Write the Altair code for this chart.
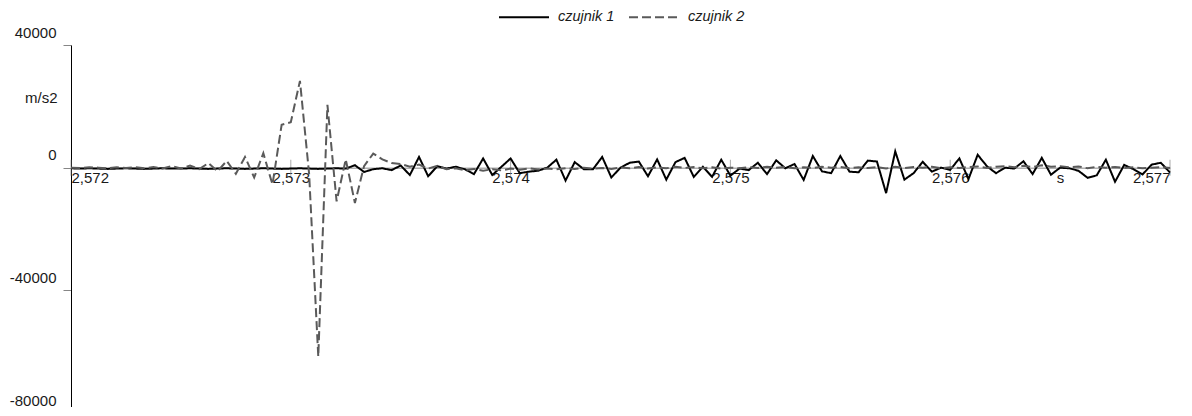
import altair as alt
import pandas as pd

# ---- data ----
T0 = 2.572            # first sample time [s]
SAMPLE_RATE = 24000   # samples per second
SERIES_NAMES = ["czujnik 1", "czujnik 2"]

czujnik_1 = [
    -200, -300, -200, -300, -400, -300, -200, -300, -400, -300,
    -200, -300, -300, -200, -300, -400, -300, -200, -300, -400,
    -300, -200, -300, -400, -300, -200, -300, -400, -300, -200,
    -300, 800, -1400, -500, -200, -800, 700, -2400, 3500, -2800,
    500, -300, 300, -500, -2100, 3000, -2400, 300, 3000, -1800,
    -1300, -1000, 0, 2600, -4200, 1800, -500, -500, 3500, -3200,
    0, 1600, 2000, -2800, 2700, -3900, 1800, 3200, -3000, 300,
    -3000, 2600, -2600, -300, -800, 1600, -2100, 2400, -200, 1200,
    -4000, 3800, -1200, -1800, 3800, -1300, -1500, 2300, 2000, -8300,
    5300, -3900, -1800, 1900, -1300, 0, -700, 3000, -3700, 4200,
    500, -1800, 0, -300, 2100, -2100, 3200, -2300, 0, -200,
    -1000, -3300, -2500, 2600, -4600, 900, -500, -2200, 1000, 1600,
    -1600,
]

czujnik_2 = [
    0, -100, 100, 0, -200, 100, -100, 200, -200, 200,
    -300, 500, -300, 700, -500, 1500, -1200, 2200, -2000, 3500,
    -3200, 4700, -5500, 14000, 14800, 28300, -2000, -61600, 20500, -11000,
    2700, -11500, 500, 4600, 2700, 1500, 1200, 300, 1000, -300,
    600, -500, -200, -800, -400, -1000, -500, -900, -300, -700,
    -200, -600, -300, -500, -200, -400, 0, -300, -100, -400,
    100, -200, 200, -300, 100, -200, 300, -100, 200, -200,
    100, -300, 0, -200, 200, -100, 300, 0, 200, -200,
    100, -100, 300, 0, 200, -200, 100, -100, 200, -300,
    300, -100, 200, 0, 300, -200, 100, -100, 200, 400,
    -100, 300, 500, 100, 600, 200, 800, 300, 500, 100,
    400, -200, 300, 0, 200, -100, 100, -200, 0, 200,
    -100,
]

X_TICKS = [2.572, 2.573, 2.574, 2.575, 2.576, 2.577]
Y_TICKS = [-80000, -40000, 0, 40000]
X_DOMAIN = [2.572, 2.577]
Y_DOMAIN = [-80000, 40000]

rows = []
for name, vals in zip(SERIES_NAMES, [czujnik_1, czujnik_2]):
    for i, v in enumerate(vals):
        rows.append({"t": T0 + i / SAMPLE_RATE, "a": v, "series": name})
df = pd.DataFrame(rows)
ticks_df = pd.DataFrame({"t": X_TICKS})

# ---- layout ----
W, H = 1099, 368
PAD_LEFT, PAD_TOP, PAD_RIGHT, PAD_BOTTOM = 63, 37, 14, -6
zero_px = H * (Y_DOMAIN[1] - 0) / (Y_DOMAIN[1] - Y_DOMAIN[0])
x_axis_offset = -(H - zero_px)

FONT = "Liberation Sans"

x_scale = alt.Scale(domain=X_DOMAIN, nice=False, zero=False)
y_scale = alt.Scale(domain=Y_DOMAIN, nice=False, zero=False)

legend = alt.Legend(
    title=None,
    orient="none",
    direction="horizontal",
    legendX=427,
    legendY=-54,
    symbolType="stroke",
    symbolSize=2500,
    symbolStrokeWidth=2,
    labelFont=FONT,
    labelFontSize=14.5,
    labelFontStyle="italic",
    labelColor="#1a1a1a",
    labelOffset=8,
    columnPadding=10,
    padding=0,
)

lines = alt.Chart(df).mark_line(strokeWidth=2).encode(
    x=alt.X(
        "t:Q",
        scale=x_scale,
        axis=alt.Axis(
            orient="bottom",
            offset=x_axis_offset,
            values=X_TICKS,
            labelExpr="replace(format(datum.value, '.3f'), '.', ',')",
            ticks=False,
            grid=False,
            domainColor="#868686",
            domainWidth=1,
            labelFont=FONT,
            labelFontSize=15,
            labelColor="#1a1a1a",
            labelPadding=3,
            labelBaseline="top",
            title="s",
            titleFont=FONT,
            titleFontSize=15,
            titleFontWeight="normal",
            titleColor="#1a1a1a",
            titleX=989,
            titleY=15,
            titleBaseline="alphabetic",
            titleAlign="center",
        ),
    ),
    y=alt.Y(
        "a:Q",
        scale=y_scale,
        axis=alt.Axis(
            values=Y_TICKS,
            labelExpr="'' + datum.value",
            grid=False,
            domainColor="#000000",
            domainWidth=1,
            tickColor="#868686",
            tickSize=8,
            labelFont=FONT,
            labelFontSize=15,
            labelColor="#1a1a1a",
            labelPadding=7,
            labelOffset=-13,
            title="m/s2",
            titleFont=FONT,
            titleFontSize=15,
            titleFontWeight="normal",
            titleColor="#1a1a1a",
            titleAngle=0,
            titleX=-14,
            titleY=52,
            titleAlign="right",
            titleBaseline="middle",
        ),
    ),
    color=alt.Color(
        "series:N",
        scale=alt.Scale(domain=SERIES_NAMES, range=["#000000", "#5a5a5a"]),
        legend=legend,
    ),
    strokeDash=alt.StrokeDash(
        "series:N",
        scale=alt.Scale(domain=SERIES_NAMES, range=[[1, 0], [9, 4]]),
        legend=legend,
    ),
)

tick_marks = alt.Chart(ticks_df).mark_tick(
    orient="vertical", size=16, thickness=1, color="#868686"
).encode(
    x=alt.X("t:Q", scale=x_scale),
    y=alt.datum(0, scale=y_scale),
)

chart = (
    alt.layer(tick_marks, lines)
    .properties(
        width=W,
        height=H,
        padding={"left": PAD_LEFT, "top": PAD_TOP, "right": PAD_RIGHT, "bottom": PAD_BOTTOM},
        autosize=alt.AutoSizeParams(type="none"),
        background="white",
    )
    .configure_view(strokeWidth=0)
)

chart.save("out.html", embed_options={"renderer": "svg", "actions": False})
